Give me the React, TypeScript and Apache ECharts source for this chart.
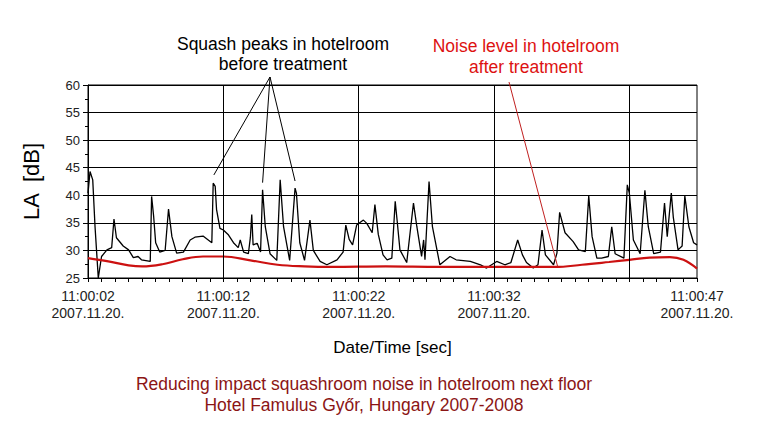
import { useEffect, useRef } from 'react';
import * as echarts from 'echarts';

// seconds after 11:00:02 -> LA [dB], before treatment
const BEFORE_T = [0, 0.15, 0.35, 0.52, 0.76, 1.0, 1.4, 1.75, 1.92, 2.1, 2.6, 3.0, 3.35, 3.7, 3.95, 4.6, 4.7, 4.85, 5.0, 5.3, 5.7, 5.95, 6.2, 6.55, 7.05, 7.55, 7.9, 8.5, 9.15, 9.25, 9.4, 9.5, 9.75, 10.0, 10.35, 10.75, 11.1, 11.25, 11.5, 11.85, 12.0, 12.1, 12.2, 12.5, 12.75, 12.9, 13.1, 13.45, 13.95, 14.2, 14.45, 14.9, 15.3, 15.4, 15.65, 16.0, 16.4, 16.65, 17.15, 17.65, 18.4, 18.85, 19.05, 19.3, 19.55, 19.85, 20.35, 20.6, 21.0, 21.2, 21.45, 21.8, 22.1, 22.45, 22.7, 22.85, 23.05, 23.55, 24.05, 24.3, 24.65, 24.8, 24.9, 25.2, 25.45, 26.0, 26.75, 27.2, 28.25, 29.0, 29.45, 30.2, 30.8, 31.25, 31.75, 32.1, 32.4, 32.9, 33.25, 33.55, 33.8, 34.4, 34.65, 34.85, 35.25, 35.85, 36.25, 36.75, 37.0, 37.25, 37.6, 37.95, 38.45, 38.7, 38.95, 39.6, 39.85, 40.0, 40.3, 40.8, 41.15, 41.4, 41.8, 42.3, 42.6, 42.8, 43.1, 43.25, 43.6, 43.9, 44.1, 44.4, 44.75, 45];
const BEFORE_DB = [40.4, 44.3, 42.8, 34.3, 25, 28.9, 30.1, 30.5, 35.7, 32.3, 30.8, 30.1, 28.7, 28.9, 28.3, 28.0, 39.8, 36.2, 31.4, 29.7, 30.0, 37.5, 32.5, 29.5, 29.7, 31.9, 32.4, 32.6, 31.4, 42.2, 41.6, 37.4, 34.0, 33.7, 32.9, 31.4, 30.5, 31.9, 29.7, 29.4, 32.4, 36.5, 31.0, 31.3, 29.7, 41.0, 34.3, 29.4, 28.2, 42.8, 34.3, 28.2, 41.3, 40.4, 31.4, 28.2, 35.5, 30.0, 28.0, 27.4, 28.3, 29.7, 34.6, 32.0, 31.0, 34.6, 35.5, 34.9, 33.2, 38.3, 32.9, 29.2, 28.3, 28.6, 38.9, 35.2, 30.1, 27.8, 38.6, 34.3, 28.9, 31.9, 28.3, 42.5, 34.3, 27.4, 28.9, 28.3, 28.0, 27.4, 26.8, 28.0, 27.4, 27.8, 31.9, 29.2, 27.8, 26.8, 27.4, 33.7, 29.2, 27.4, 29.5, 36.9, 33.2, 31.6, 30.1, 29.8, 39.9, 32.5, 28.6, 28.6, 28.9, 34.3, 29.4, 28.6, 41.9, 40.4, 31.9, 29.4, 40.9, 34.3, 29.4, 29.7, 38.6, 32.5, 40.4, 36.0, 30.1, 30.8, 39.9, 34.3, 31.4, 31.0];

// after treatment
const AFTER_T = [0, 1.5, 3.0, 4.0, 5.5, 7.0, 8.5, 10.0, 12.0, 14.0, 16.0, 18.0, 22.0, 26.0, 30.0, 34.5, 36.5, 38.5, 40.0, 41.5, 43.0, 44.0, 45];
const AFTER_DB = [28.6, 28.0, 27.3, 27.1, 27.5, 28.4, 28.9, 28.9, 28.2, 27.4, 27.1, 27.0, 27.1, 27.0, 27.0, 27.0, 27.4, 27.9, 28.3, 28.7, 28.8, 28.3, 26.7];

const X_LABELS: Record<number, string> = { 0: '11:00:02', 10: '11:00:12', 20: '11:00:22', 30: '11:00:32', 45: '11:00:47' };
const DATE_LABEL = '2007.11.20.';
const V_GRID = [10, 20, 30, 40];
const PEAKS = [[9.3, 42.6], [12.9, 41.2], [15.3, 41.5]];
const RED_TARGET = [34.7, 27.1];

const FONT = '"Liberation Sans", Arial, sans-serif';

export default function App() {
  const ref = useRef<HTMLDivElement>(null);

  useEffect(() => {
    if (!ref.current) return;
    const chart = echarts.init(ref.current, null, { renderer: 'svg' });
    chart.setOption({
      animation: false,
      textStyle: { fontFamily: FONT },
      grid: { left: 88, right: 61, top: 85, bottom: 150, show: true, borderColor: '#000', borderWidth: 1 },
      xAxis: {
        type: 'value', min: 0, max: 45, interval: 1,
        axisLine: { lineStyle: { color: '#000' } },
        axisTick: { length: 4, lineStyle: { color: '#000' } },
        splitLine: { show: false },
        axisLabel: {
          color: '#222', fontSize: 14, lineHeight: 17, margin: 9, showMinLabel: true, showMaxLabel: true,
          formatter: (v: number) => (X_LABELS[v] ? `${X_LABELS[v]}\n${DATE_LABEL}` : ''),
        },
        name: 'Date/Time [sec]', nameLocation: 'middle', nameGap: 61,
        nameTextStyle: { color: '#000', fontSize: 17 },
      },
      yAxis: {
        type: 'value', min: 25, max: 60, interval: 5,
        axisLine: { show: true, lineStyle: { color: '#000' } },
        axisTick: { show: true, length: 5, lineStyle: { color: '#000' } },
        minorTick: { show: true, splitNumber: 2, length: 3, lineStyle: { color: '#000' } },
        splitLine: { lineStyle: { color: '#000', width: 1 } },
        axisLabel: { color: '#222', fontSize: 13, margin: 8 },
        name: 'LA  [dB]', nameLocation: 'middle', nameGap: 46, nameRotate: 90,
        nameTextStyle: { color: '#000', fontSize: 22 },
      },
      series: [
        {
          type: 'line', data: BEFORE_T.map((t, i) => [t, BEFORE_DB[i]]), symbol: 'none',
          lineStyle: { color: '#000', width: 1.3 }, clip: true, z: 3,
          markLine: {
            silent: true, symbol: 'none', label: { show: false },
            lineStyle: { color: '#000', type: 'solid', width: 1 },
            data: V_GRID.map(x => ({ xAxis: x })),
          },
        },
        {
          type: 'line', data: AFTER_T.map((t, i) => [t, AFTER_DB[i]]), symbol: 'none', smooth: 0.4,
          lineStyle: { color: '#cc1111', width: 2.2 }, z: 4,
        },
      ],
    });

    const p = (d: number[]) => chart.convertToPixel({ gridIndex: 0 }, d) as number[];
    const origin = [270, 77];
    const redEnd = p(RED_TARGET);
    chart.setOption({
      graphic: [
        ...PEAKS.map(pk => {
          const e = p(pk);
          return { type: 'line', shape: { x1: origin[0], y1: origin[1], x2: e[0], y2: e[1] - 6 }, style: { stroke: '#000', lineWidth: 1 }, z: 10 };
        }),
        { type: 'line', shape: { x1: 509, y1: 82, x2: redEnd[0], y2: redEnd[1] }, style: { stroke: '#c02020', lineWidth: 1 }, z: 10 },
        { type: 'text', x: 283, y: 34, style: { text: 'Squash peaks in hotelroom\nbefore treatment', fill: '#000', font: `17.5px ${FONT}`, align: 'center', lineHeight: 20 } },
        { type: 'text', x: 526, y: 35, style: { text: 'Noise level in hotelroom\nafter treatment', fill: '#dd1111', font: `17.5px ${FONT}`, align: 'center', lineHeight: 21 } },
        { type: 'text', x: 364, y: 373, style: { text: 'Reducing impact squashroom noise in hotelroom next floor\nHotel Famulus Győr, Hungary 2007-2008', fill: '#8b1515', font: `17.5px ${FONT}`, align: 'center', lineHeight: 21 } },
      ],
    });
    return () => chart.dispose();
  }, []);

  return (
    <div style={{ position: 'fixed', left: 0, top: 0, width: 758, height: 428, background: '#fff' }}>
      <div ref={ref} style={{ width: 758, height: 428 }} />
    </div>
  );
}
